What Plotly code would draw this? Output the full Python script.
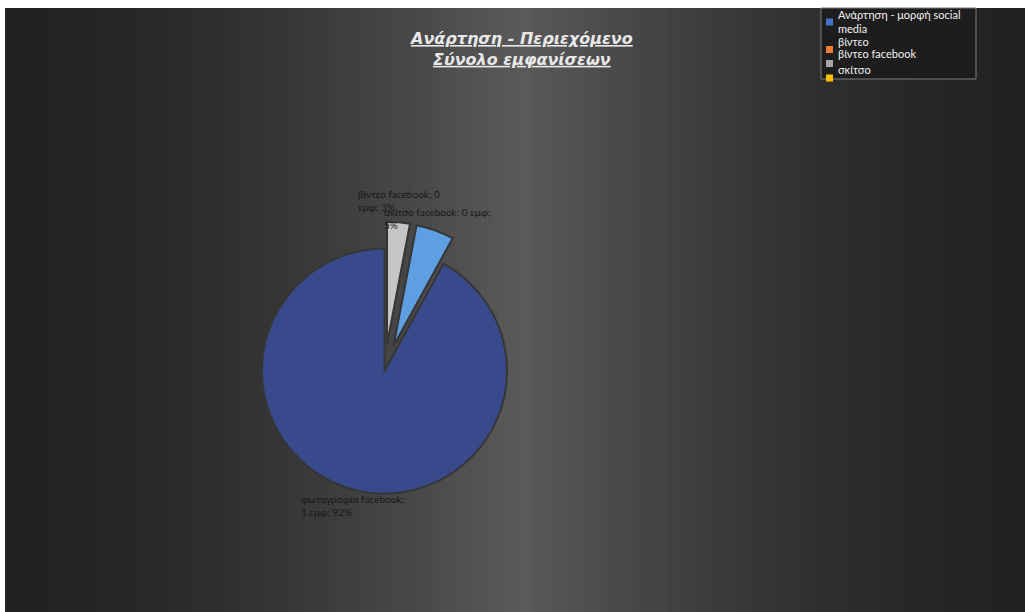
import textwrap
import plotly.graph_objects as go

W, H = 1025, 612

# Pie data: slice names, shares of views (in thousands), explosion
slice_labels = ["βίντεο facebook", "σκίτσο facebook", "φωτογραφία facebook"]
slice_values = [0.03, 0.05, 0.92]
slice_colors = ["#c6c6c6", "#5d9fe0", "#384a8b"]
slice_pull = [0.22, 0.22, 0.0]
label_wrap = [18, 23, 20]

# Legend entries as listed in the chart's legend box
legend_names = ["Ανάρτηση - μορφή social<br>media", "βίντεο", "βίντεο facebook", "σκίτσο"]
legend_colors = ["#4472c4", "#ed7d31", "#a5a5a5", "#ffc000"]

title_lines = ["Ανάρτηση - Περιεχόμενο", "Σύνολο εμφανίσεων"]


def px(x):
    return x / W


def py(y):
    return 1 - y / H


shapes = []
# dark backdrop with a soft lighter band through the middle
x0, x1, top = 5, W, 8
n = 120
for i in range(n):
    a = x0 + (x1 - x0) * i / n
    b = x0 + (x1 - x0) * (i + 1) / n
    c = (a + b) / 2
    t = max(0.0, 1 - abs(c - 520) / 500)
    v = int(round(34 + 56 * t ** 1.6))
    shapes.append(dict(type="rect", xref="paper", yref="paper", layer="below",
                       x0=px(a), x1=px(b) + 0.0005, y0=0, y1=py(top),
                       fillcolor=f"rgb({v},{v},{v})", line=dict(width=0)))

# pie placement: centre and radius in pixels
cx, cy, r = 384.5, 371, 122.5
half = r * (1 + max(slice_pull))
fig = go.Figure(go.Pie(
    labels=slice_labels, values=slice_values, sort=False, direction="clockwise",
    rotation=0, pull=slice_pull, textinfo="none", hoverinfo="label+value+percent",
    marker=dict(colors=slice_colors, line=dict(color="#363636", width=2)),
    domain=dict(x=[px(cx - half), px(cx + half)], y=[py(cy + half), py(cy - half)]),
    showlegend=False,
))

annotations = []
# data labels
total = sum(slice_values)
label_pos = [(356, 186), (382, 204), (299, 491)]
for name, val, wrap, (lx, ly) in zip(slice_labels, slice_values, label_wrap, label_pos):
    txt = f"{name}; {val:.0f} εμφ; {val / total:.0%}"
    txt = "<br>".join(textwrap.wrap(txt, wrap))
    annotations.append(dict(text=txt, x=px(lx), y=py(ly), xref="paper", yref="paper",
                            xanchor="left", yanchor="top", align="left", showarrow=False,
                            font=dict(family="Lato", size=10, color="#181818")))

# title
annotations.append(dict(
    text="<br>".join(f"<b><i><u>{t}</u></i></b>" for t in title_lines),
    x=px(521), y=py(27), xref="paper", yref="paper", xanchor="center", yanchor="top",
    showarrow=False, align="center",
    font=dict(family="DejaVu Sans", size=16, color="#e8e8e8")))

# legend box
shapes.append(dict(type="rect", xref="paper", yref="paper", x0=px(821), x1=px(976),
                   y0=py(79), y1=py(8), fillcolor="#1d1d1d",
                   line=dict(color="#7c7c7c", width=1)))
marker_y = [22, 49.5, 63.5, 78]
text_y = [6, 33, 45, 61]
for name, col, my, ty in zip(legend_names, legend_colors, marker_y, text_y):
    shapes.append(dict(type="rect", xref="paper", yref="paper", x0=px(826), x1=px(833),
                       y0=py(my + 3.5), y1=py(my - 3.5), fillcolor=col, line=dict(width=0)))
    annotations.append(dict(text=name, x=px(836), y=py(ty), xref="paper", yref="paper",
                            xanchor="left", yanchor="top", align="left", showarrow=False,
                            font=dict(family="Lato", size=11, color="#f2f2f2")))

fig.update_layout(
    width=W, height=H, margin=dict(l=0, r=0, t=0, b=0),
    paper_bgcolor="white", plot_bgcolor="white",
    shapes=shapes, annotations=annotations, showlegend=False,
)

fig.write_html("out.html")
